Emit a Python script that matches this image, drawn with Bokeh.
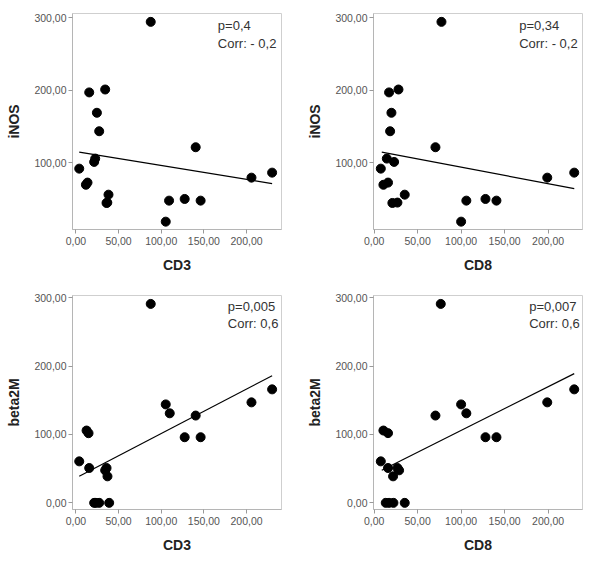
from bokeh.plotting import figure
from bokeh.models import Range1d, FixedTicker, Label
from bokeh.layouts import gridplot
from bokeh.embed import file_html
from bokeh.resources import INLINE

# ---- data ----
cd3_top = [87.7, 15.6, 34.3, 24.6, 27.3, 140.4, 22.6, 21.4, 3.9, 13.6, 11.7, 38.2, 35.9, 36.8, 109.2, 127.5, 146.2, 105.3, 205.8, 230.0]
cd8_top = [77.4, 17.2, 28.0, 19.9, 18.4, 70.5, 14.6, 23.0, 7.7, 16.0, 10.7, 35.2, 21.0, 26.8, 106.0, 128.0, 140.6, 100.0, 199.0, 230.0]
inos = [294, 197, 201, 169, 143.6, 121.6, 106, 101.4, 92.2, 73, 70, 56.4, 45, 45.5, 48.2, 50.5, 48.2, 19.3, 79.8, 86.7]

cd3_bot = [87.7, 12.5, 14.8, 3.9, 15.6, 35.9, 34.3, 37.0, 21.4, 23.4, 27.3, 39.0, 105.3, 110.0, 127.5, 146.2, 140.4, 205.8, 230.0]
b2m_cd3 = [291, 105.8, 101.9, 60.7, 51, 51, 47.6, 38.8, 0, 0, 0, 0, 144, 131, 96, 96, 127.7, 147, 166]
cd8_bot = [76.6, 10.7, 16.0, 7.7, 16.0, 26.8, 28.7, 21.8, 13.4, 17.2, 22.2, 35.2, 70.5, 100.0, 106.0, 128.0, 140.6, 199.0, 230.0]
b2m_cd8 = [291, 105.8, 102, 60.7, 51, 51, 47.6, 38.8, 0, 0, 0, 0, 127.7, 144, 131, 96, 96, 147, 166]

# fit lines (end points)
fit1_x, fit1_y = [3.9, 230.0], [115.0, 71.6]
fit2_x, fit2_y = [8.8, 230.0], [115.0, 64.7]
fit3_x, fit3_y = [3.9, 230.0], [38.8, 186.0]
fit4_x, fit4_y = [8.8, 230.0], [47.6, 189.0]

x_ticks = [0, 50, 100, 150, 200]
x_tick_labels = ["0,00", "50,00", "100,00", "150,00", "200,00"]
y_ticks_top = [100, 200, 300]
y_ticks_bot = [0, 100, 200, 300]
y_tick_labels = {0: "0,00", 100: "100,00", 200: "200,00", 300: "300,00"}

notes = [("p=0,4", "Corr: - 0,2"), ("p=0,34", "Corr: - 0,2"),
         ("p=0,005", "Corr: 0,6"), ("p=0,007", "Corr: 0,6")]

FONT = "Liberation Sans"


def panel(xs, ys, fx, fy, xlabel, ylabel, xr, yr, yticks, note, note_x, note_y,
          bl, br, bt, bb, fh):
    p = figure(output_backend="svg", toolbar_location=None,
               frame_width=209, frame_height=fh,
               x_range=Range1d(*xr), y_range=Range1d(*yr),
               min_border_left=bl, min_border_right=br,
               min_border_top=bt, min_border_bottom=bb)
    p.background_fill_color = "white"
    p.border_fill_color = "white"
    p.outline_line_color = "#cfcfcf"
    p.outline_line_width = 1
    p.grid.visible = False

    p.xaxis.ticker = FixedTicker(ticks=x_ticks)
    p.xaxis.major_label_overrides = dict(zip(x_ticks, x_tick_labels))
    p.yaxis.ticker = FixedTicker(ticks=yticks)
    p.yaxis.major_label_overrides = {t: y_tick_labels[t] for t in yticks}
    for ax in (p.xaxis[0], p.yaxis[0]):
        ax.axis_line_color = "#b5b5b5"
        ax.major_tick_line_color = "#999999"
        ax.major_tick_out = 4
        ax.major_tick_in = 0
        ax.minor_tick_line_color = None
        ax.major_label_text_font = FONT
        ax.major_label_text_font_size = "10.5px"
        ax.major_label_text_color = "#555555"
        ax.axis_label_text_font = FONT
        ax.axis_label_text_font_style = "bold"
        ax.axis_label_text_font_size = "14px"
        ax.axis_label_text_color = "#222222"
    p.xaxis.axis_label = xlabel
    p.yaxis.axis_label = ylabel
    p.xaxis.major_label_standoff = 3
    p.yaxis.major_label_standoff = 2
    p.xaxis.axis_label_standoff = 9
    p.yaxis.axis_label_standoff = 9

    p.line(fx, fy, line_color="black", line_width=1.2)
    p.scatter(xs, ys, size=9, fill_color="black", line_color="black")

    for txt, yy in zip(note, note_y):
        p.add_layout(Label(x=note_x, y=yy, text=txt, text_font=FONT,
                           text_font_size="13px", text_color="#333333",
                           text_baseline="middle", text_align="left"))
    return p


p1 = panel(cd3_top, inos, fit1_x, fit1_y, "CD3", "iNOS", (-4.0, 241.0), (8.5, 305.5),
           y_ticks_top, notes[0], 166.4, (289.4, 264.6), 72, 19, 13, 59, 216)
p2 = panel(cd8_top, inos, fit2_x, fit2_y, "CD8", "iNOS", (-0.7, 239.5), (8.5, 305.5),
           y_ticks_top, notes[1], 166.7, (289.4, 264.6), 73, 14, 13, 59, 216)
p3 = panel(cd3_bot, b2m_cd3, fit3_x, fit3_y, "CD3", "beta2M", (-4.0, 241.0), (-9.7, 303.3),
           y_ticks_bot, notes[2], 178.1, (287.2, 262.0), 72, 19, 7, 44, 214)
p4 = panel(cd8_bot, b2m_cd8, fit4_x, fit4_y, "CD8", "beta2M", (-0.7, 239.5), (-9.7, 303.3),
           y_ticks_bot, notes[3], 178.2, (287.2, 262.0), 73, 14, 7, 44, 214)

grid = gridplot([[p1, p2], [p3, p4]], toolbar_location=None)

open("out.html", "w").write(file_html(grid, INLINE))
